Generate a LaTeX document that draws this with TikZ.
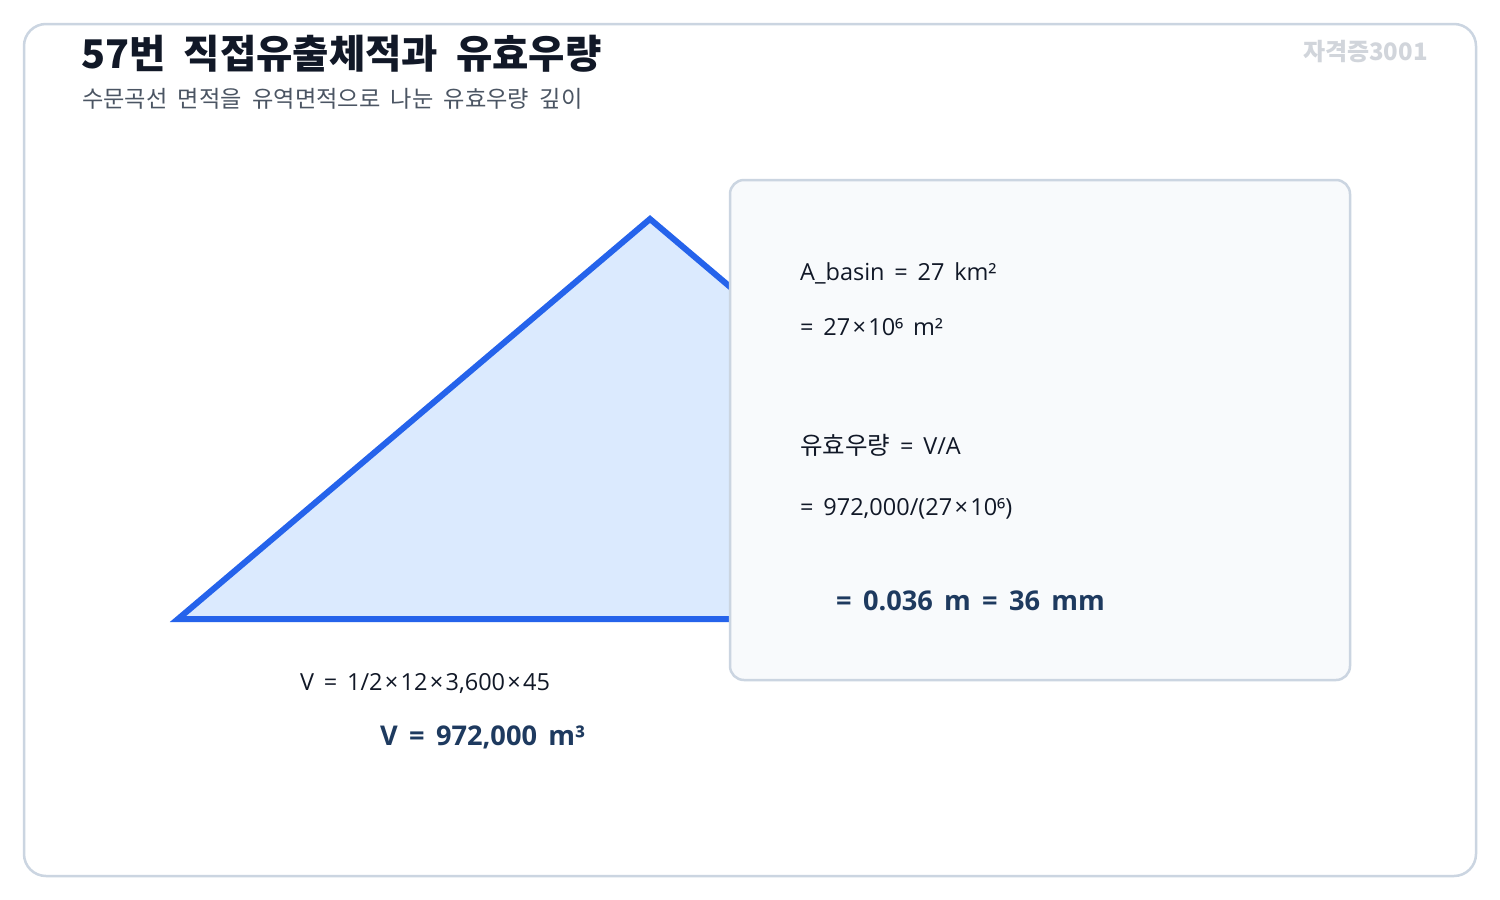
\documentclass[tikz,border=0pt]{standalone}
\usepackage{fontspec}
\setmainfont{Open Sans}[WordSpace=1.6]
\newfontfamily\kr{Noto Sans CJK KR}[WordSpace=2]
\newcommand{\tms}{\kern2.3pt×\kern2.3pt}
\definecolor{frame}{HTML}{CBD5E1}
\definecolor{panel}{HTML}{F8FAFC}
\definecolor{trifill}{HTML}{DBEAFE}
\definecolor{triline}{HTML}{2563EB}
\definecolor{titlec}{HTML}{111827}
\definecolor{subc}{HTML}{4B5563}
\definecolor{markc}{HTML}{D1D5DB}
\definecolor{bodyc}{HTML}{111827}
\definecolor{resc}{HTML}{1E3A5F}
\tikzset{
  txt/.style={anchor=base west, inner sep=0pt, text=bodyc, font=\fontsize{23.5}{26}\selectfont},
  restxt/.style={anchor=base west, inner sep=0pt, text=resc, font=\fontsize{27.2}{30}\selectfont\bfseries},
}
\begin{document}
\begin{tikzpicture}[x=1pt,y=-1pt]
\useasboundingbox (0,0) rectangle (1500,900);
\fill[white] (0,0) rectangle (1500,900);
\draw[frame, line width=2.5pt, rounded corners=22pt] (24,24) rectangle (1476,876);
% title
\node[anchor=base west, inner sep=0pt, text=titlec, font=\kr\fontsize{39.5}{44}\selectfont\bfseries] (title) at (81,68) {57번 직접유출체적과 유효우량};
\node[anchor=base west, inner sep=0pt, text=subc, font=\kr\fontsize{23.2}{26}\selectfont] (sub) at (82,107) {수문곡선 면적을 유역면적으로 나눈 유효우량 깊이};
\node[anchor=base east, inner sep=0pt, text=markc, font=\kr\fontsize{24}{28}\selectfont\bfseries] (mark) at (1428,60) {자격증3001};
% triangle
\coordinate (tl) at (178,619);
\coordinate (ta) at (650,219);
\coordinate (tr) at (1122,619);
\filldraw[fill=trifill, draw=triline, line width=6pt, line join=miter] (tl) -- (ta) -- (tr) -- cycle;
% panel
\filldraw[fill=panel, draw=frame, line width=2.5pt, rounded corners=14pt] (730,180) rectangle (1350,680);
\node[txt] (a1) at (800,280) {A\_basin = 27 km²};
\node[txt] (a2) at (800,335) {= 27\tms10⁶ m²};
\node[txt] (e1) at (800,454) {{\kr\fontsize{24.5}{26}\selectfont 유효우량} = V/A};
\node[txt] (e2) at (800,515) {= 972,000/(27\tms10⁶)};
\node[restxt] (e3) at (836,610) {= 0.036 m = 36 mm};
% volume
\node[txt] (v1) at (300,690) {V = 1/2\tms12\tms3,600\tms45};
\node[restxt] (v2) at (380,745) {V = 972,000 m³};
\end{tikzpicture}
\end{document}
